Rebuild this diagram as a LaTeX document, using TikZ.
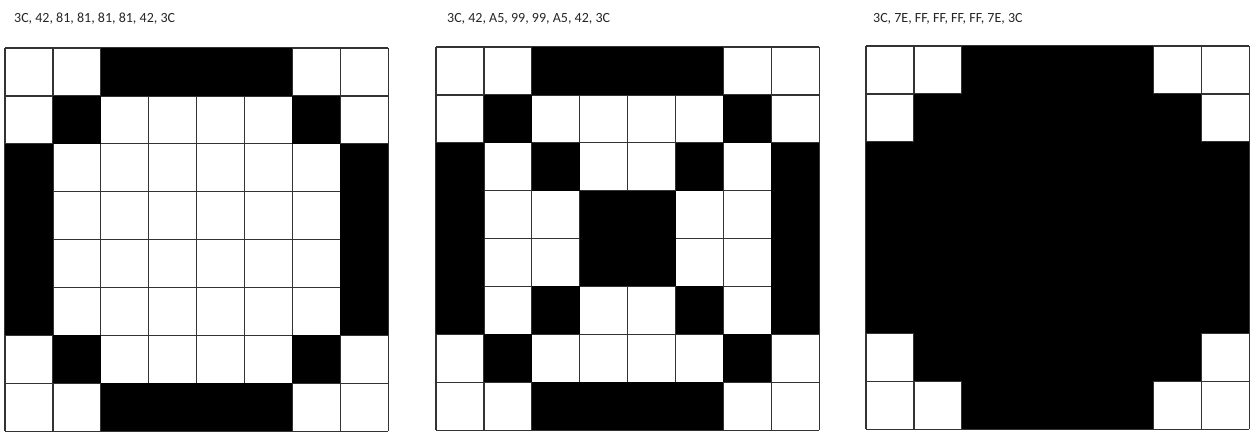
\documentclass[tikz,border=0pt]{standalone}
\usepackage{fontspec}
\setmainfont{Carlito}
\begin{document}
\begin{tikzpicture}[x=1pt,y=-1pt,
  gridline/.style={draw=black!80,line width=1.3pt},
  pix/.style={fill=black},
  caption/.style={anchor=base west,inner sep=0pt,font=\fontsize{14}{16}\selectfont,text=black!85}]
\useasboundingbox[fill=white] (0,0) rectangle (1260,443);
\def\cs{47.9}
% caption labels
\node[caption] (t1) at (14,23) {3C, 42, 81, 81, 81, 81, 42, 3C};
\node[caption] (t2) at (447,23) {3C, 42, A5, 99, 99, A5, 42, 3C};
\node[caption] (t3) at (873,23) {3C, 7E, FF, FF, FF, FF, 7E, 3C};
% grids: origin x, origin y, list of black cells (col/row)
\foreach \ox/\oy/\cells in {
  5/48/{2/0,3/0,4/0,5/0,1/1,6/1,0/2,7/2,0/3,7/3,0/4,7/4,0/5,7/5,1/6,6/6,2/7,3/7,4/7,5/7},
  436/47/{2/0,3/0,4/0,5/0,1/1,6/1,0/2,2/2,5/2,7/2,0/3,3/3,4/3,7/3,0/4,3/4,4/4,7/4,0/5,2/5,5/5,7/5,1/6,6/6,2/7,3/7,4/7,5/7},
  866/46/{2/0,3/0,4/0,5/0,1/1,2/1,3/1,4/1,5/1,6/1,0/2,1/2,2/2,3/2,4/2,5/2,6/2,7/2,0/3,1/3,2/3,3/3,4/3,5/3,6/3,7/3,0/4,1/4,2/4,3/4,4/4,5/4,6/4,7/4,0/5,1/5,2/5,3/5,4/5,5/5,6/5,7/5,1/6,2/6,3/6,4/6,5/6,6/6,2/7,3/7,4/7,5/7}}{
  \begin{scope}[shift={(\ox,\oy)}]
    \foreach \i in {0,...,8}{
      \draw[gridline] (\i*\cs,0) -- (\i*\cs,8*\cs);
      \draw[gridline] (0,\i*\cs) -- (8*\cs,\i*\cs);
    }
    \foreach \c/\r in \cells{
      \fill[pix] (\c*\cs,\r*\cs) rectangle ({(\c+1)*\cs},{(\r+1)*\cs});
    }
  \end{scope}
}
\end{tikzpicture}
\end{document}
